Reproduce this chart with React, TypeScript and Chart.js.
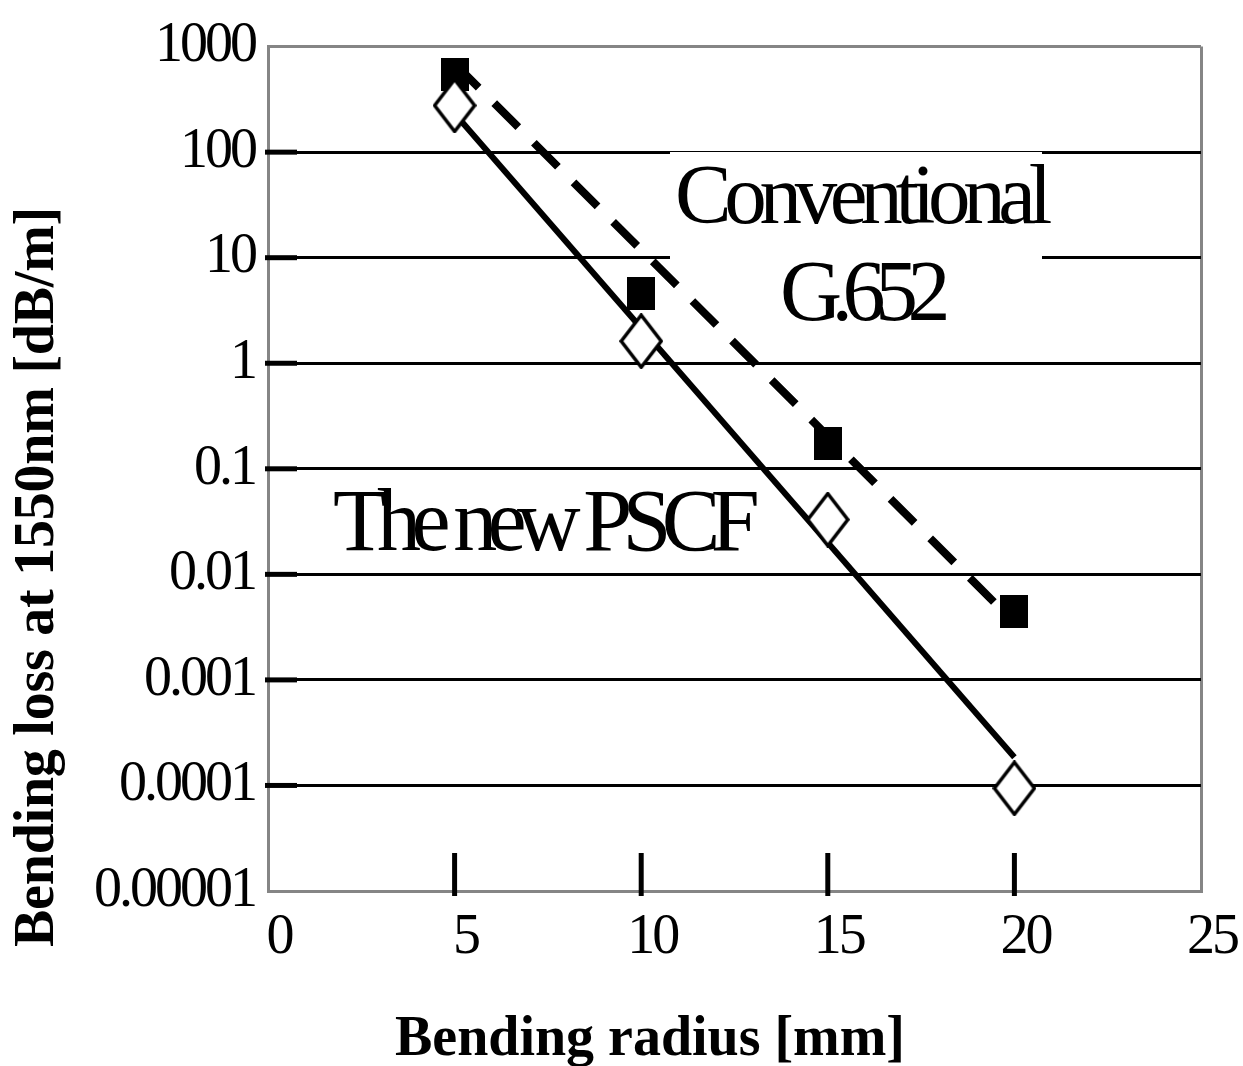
import React, { useEffect, useRef } from "react";
import { Chart, registerables } from "chart.js";

Chart.register(...registerables);

// ---- data ----
const radii = [5, 10, 15, 20];
const conventionalLoss = [540, 4.6, 0.172, 0.0044];
const pscfLoss = [277, 1.62, 0.033, 0.000094];
const conventionalFitX = [5, 20];
const conventionalFitY = [690, 0.0035];
const pscfFitX = [5, 20];
const pscfFitY = [232, 0.000185];
const xTicks = [0, 5, 10, 15, 20, 25];
const xTickMarks = [5, 10, 15, 20];
const yTicks = [1000, 100, 10, 1, 0.1, 0.01, 0.001, 0.0001, 0.00001];
const yTickLabels = ["1000", "100", "10", "1", "0.1", "0.01", "0.001", "0.0001", "0.00001"];
const xTitle = "Bending radius [mm]";
const yTitle = "Bending loss at 1550nm [dB/m]";
const conventionalLabel = ["Conventional", "G.652"];
const pscfLabel = "The new PSCF";

const SERIF = "'Liberation Serif', 'Times New Roman', serif";
const GRAY = "#858585";

function makeSquare(): HTMLCanvasElement {
  const c = document.createElement("canvas");
  c.width = 28;
  c.height = 33;
  const g = c.getContext("2d")!;
  g.fillStyle = "#000";
  g.fillRect(0, 0, 28, 33);
  return c;
}

function makeDiamond(): HTMLCanvasElement {
  const c = document.createElement("canvas");
  c.width = 44;
  c.height = 56;
  const g = c.getContext("2d")!;
  g.beginPath();
  g.moveTo(22, 2);
  g.lineTo(42, 28);
  g.lineTo(22, 54);
  g.lineTo(2, 28);
  g.closePath();
  g.fillStyle = "#fff";
  g.fill();
  g.lineWidth = 3.5;
  g.strokeStyle = "#000";
  g.stroke();
  return c;
}

function fitText(
  ctx: CanvasRenderingContext2D,
  text: string,
  left: number,
  baseline: number,
  font: string,
  width: number
) {
  ctx.save();
  ctx.font = font;
  (ctx as any).letterSpacing = "0px";
  const w = ctx.measureText(text).width;
  const n = Array.from(text).length;
  const ls = (width - w) / n;
  (ctx as any).letterSpacing = ls + "px";
  ctx.textAlign = "left";
  ctx.textBaseline = "alphabetic";
  ctx.fillStyle = "#000";
  ctx.fillText(text, left, baseline);
  ctx.restore();
}

const decorPlugin = {
  id: "decor",
  beforeDraw(chart: any) {
    Object.values(chart.scales).forEach((s: any) => {
      if (!s._lsPatched) {
        const orig = s.drawLabels;
        s.drawLabels = function (area: any) {
          const c = this.ctx;
          c.save();
          c.letterSpacing = "-3px";
          orig.call(this, area);
          c.restore();
        };
        s._lsPatched = true;
      }
    });
  },
  beforeDatasetsDraw(chart: any) {
    const ctx: CanvasRenderingContext2D = chart.ctx;
    const { left, bottom } = chart.chartArea;
    const xs = chart.scales.x;
    const ys = chart.scales.y;
    ctx.save();
    // white box behind the "Conventional G.652" label
    ctx.fillStyle = "#fff";
    ctx.fillRect(670, 152, 372, 188);
    // inner tick marks on the y axis
    ctx.strokeStyle = "#000";
    ctx.lineCap = "butt";
    yTicks.forEach((v) => {
      if (v >= 1000 || v <= 0.00001) return;
      const py = ys.getPixelForValue(v);
      ctx.lineWidth = 5;
      ctx.beginPath();
      ctx.moveTo(left - 3, py);
      ctx.lineTo(left + 29, py);
      ctx.stroke();
    });
    // inner tick marks on the x axis
    xTickMarks.forEach((v) => {
      const px = xs.getPixelForValue(v);
      ctx.lineWidth = 5;
      ctx.beginPath();
      ctx.moveTo(px, bottom - 38);
      ctx.lineTo(px, bottom + 5);
      ctx.stroke();
    });
    ctx.restore();
    // annotation texts
    fitText(ctx, conventionalLabel[0], 675, 223, `85px ${SERIF}`, 370);
    fitText(ctx, conventionalLabel[1], 780, 320, `86px ${SERIF}`, 160);
    fitText(ctx, pscfLabel, 333, 550, `88px ${SERIF}`, 417);
  },
  afterDraw(chart: any) {
    const ctx: CanvasRenderingContext2D = chart.ctx;
    // axis titles
    fitText(ctx, xTitle, 395, 1055, `bold 56px ${SERIF}`, 510);
    ctx.save();
    ctx.translate(53, 947);
    ctx.rotate(-Math.PI / 2);
    fitText(ctx, yTitle, 0, 0, `bold 56px ${SERIF}`, 740);
    ctx.restore();
  },
};

export default function App() {
  const ref = useRef<HTMLCanvasElement>(null);
  useEffect(() => {
    const canvas = ref.current!;
    const square = makeSquare();
    const diamond = makeDiamond();
    const chart = new Chart(canvas, {
      type: "scatter",
      data: {
        datasets: [
          {
            label: "The new PSCF",
            data: radii.map((x, i) => ({ x, y: pscfLoss[i] })),
            pointStyle: diamond as any,
            pointRadius: 10,
            showLine: false,
            order: 0,
          },
          {
            label: "Conventional G.652",
            data: radii.map((x, i) => ({ x, y: conventionalLoss[i] })),
            pointStyle: square as any,
            pointRadius: 10,
            showLine: false,
            order: 1,
          },
          {
            label: "PSCF fit",
            data: pscfFitX.map((x, i) => ({ x, y: pscfFitY[i] })),
            showLine: true,
            borderColor: "#000",
            borderWidth: 6,
            pointRadius: 0,
            order: 2,
          },
          {
            label: "Conventional fit",
            data: conventionalFitX.map((x, i) => ({ x, y: conventionalFitY[i] })),
            showLine: true,
            borderColor: "#000",
            borderWidth: 8,
            borderDash: [34, 22],
            pointRadius: 0,
            order: 2,
          },
        ],
      },
      options: {
        responsive: false,
        animation: false,
        devicePixelRatio: 1,
        layout: { padding: { top: 43, right: 42, bottom: 0, left: 0 } },
        plugins: {
          legend: { display: false },
          tooltip: { enabled: false },
        },
        scales: {
          x: {
            type: "linear",
            position: "bottom",
            min: 0,
            max: 25,
            afterBuildTicks: (s: any) => {
              s.ticks = xTicks.map((v) => ({ value: v }));
            },
            afterFit: (s: any) => {
              s.height = 175;
            },
            ticks: {
              color: "#000",
              font: { family: SERIF, size: 56, lineHeight: 1.2 },
              padding: 14,
              labelOffset: 11,
              maxRotation: 0,
              autoSkip: false,
            },
            grid: {
              drawTicks: false,
              lineWidth: 3,
              color: (c: any) => (c.tick && c.tick.value === 25 ? GRAY : "rgba(0,0,0,0)"),
            },
            border: { color: GRAY, width: 3 },
          },
          y: {
            type: "logarithmic",
            min: 0.00001,
            max: 1000,
            afterBuildTicks: (s: any) => {
              s.ticks = yTicks.map((v) => ({ value: v }));
            },
            afterFit: (s: any) => {
              s.width = 268;
            },
            ticks: {
              color: "#000",
              font: { family: SERIF, size: 56 },
              padding: 13,
              autoSkip: false,
              callback: (v: any) => {
                const i = yTicks.findIndex(
                  (t) => Math.abs(Math.log10(t) - Math.log10(Number(v))) < 1e-6
                );
                return i >= 0 ? yTickLabels[i] : "";
              },
            },
            grid: {
              drawTicks: false,
              lineWidth: 3,
              color: (c: any) => (c.tick && c.tick.value >= 999 ? GRAY : "#000"),
            },
            border: { color: GRAY, width: 3 },
          },
        },
      },
      plugins: [decorPlugin],
    } as any);
    return () => chart.destroy();
  }, []);
  return (
    <div style={{ position: "absolute", left: 0, top: 0, width: 1243, height: 1066, background: "#fff" }}>
      <canvas ref={ref} width={1243} height={1066} style={{ display: "block", width: 1243, height: 1066 }} />
    </div>
  );
}
